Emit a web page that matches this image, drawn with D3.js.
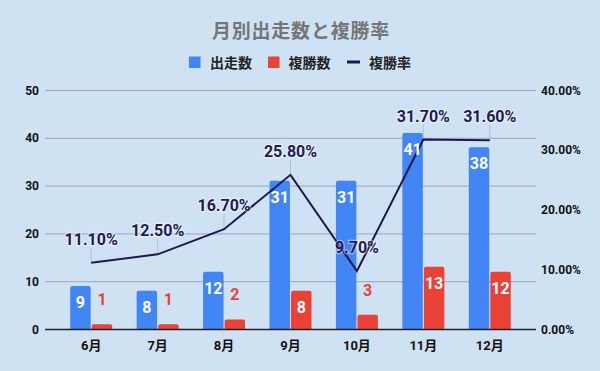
<!DOCTYPE html>
<html>
<head>
<meta charset="utf-8">
<script src="https://cdn.jsdelivr.net/npm/d3@7"></script>
<style>
    html, body { margin: 0; padding: 0; background: #cfe2f3; }
    svg text { font-family: Roboto, "Noto Sans CJK JP", sans-serif; }
</style>
</head>
<body>
<div id="chart"></div>
<script>
var months = ["6月", "7月", "8月", "9月", "10月", "11月", "12月"];
var runs = [9, 8, 12, 31, 31, 41, 38];        // 出走数
var places = [1, 1, 2, 8, 3, 13, 12];         // 複勝数
var placeRate = [11.1, 12.5, 16.7, 25.8, 9.7, 31.7, 31.6]; // 複勝率 (%)
var leftTicks = [0, 10, 20, 30, 40, 50];
var rightTicks = [0, 10, 20, 30, 40];

(function () {
    "use strict";

    var width = 600,
        height = 371,
        plot = { left: 45, right: 536, top: 90, bottom: 329 },
        blue = "#4285f4",
        red = "#ea4335",
        navy = "#1f1850",
        rows,
        svg, x, xs, yL, yR, line, groups, labels;

    rows = months.map(function (m, i) {
        return { month: m, runs: runs[i], places: places[i], rate: placeRate[i] };
    });

    svg = d3.select("#chart")
        .append("svg")
        .attr("width", width)
        .attr("height", height);

    svg.append("rect")
        .attr("width", width)
        .attr("height", height)
        .attr("fill", "#cfe2f3");

    x = d3.scaleBand()
        .domain(months)
        .range([58, 523]);

    xs = d3.scaleBand()
        .domain(["runs", "places"])
        .range([-21, 21])
        .paddingInner(0.05);

    yL = d3.scaleLinear().domain([0, 50]).range([plot.bottom, plot.top]);
    yR = d3.scaleLinear().domain([0, 40]).range([plot.bottom, plot.top]);

    function cx(d) {
        return x(d.month) + x.bandwidth() / 2;
    }

    // title
    svg.append("text")
        .attr("x", 301)
        .attr("y", 38)
        .attr("text-anchor", "middle")
        .attr("font-size", 19)
        .attr("font-weight", "bold")
        .attr("letter-spacing", 0.8)
        .attr("fill", "#757575")
        .text("月別出走数と複勝率");

    // legend
    var legend = svg.append("g").attr("transform", "translate(0,62)");
    legend.append("rect").attr("x", 189).attr("y", -5.5).attr("width", 11.5).attr("height", 11.5).attr("fill", blue);
    legend.append("text").attr("x", 210).attr("y", 5.5).text("出走数");
    legend.append("rect").attr("x", 268).attr("y", -5.5).attr("width", 11.5).attr("height", 11.5).attr("fill", red);
    legend.append("text").attr("x", 288.5).attr("y", 5.5).text("複勝数");
    legend.append("rect").attr("x", 347).attr("y", -1.5).attr("width", 13).attr("height", 3).attr("fill", navy);
    legend.append("text").attr("x", 369).attr("y", 5.5).text("複勝率");
    legend.selectAll("text")
        .attr("font-size", 14)
        .attr("font-weight", "bold")
        .attr("fill", "#222");

    // gridlines
    svg.append("g")
        .selectAll("line")
        .data(leftTicks.slice(1))
        .enter()
        .append("line")
        .attr("x1", plot.left)
        .attr("x2", plot.right)
        .attr("y1", function (d) { return yL(d) + 0.5; })
        .attr("y2", function (d) { return yL(d) + 0.5; })
        .attr("stroke", "#9aa6b6")
        .attr("stroke-width", 1);

    // left axis labels
    svg.append("g")
        .selectAll("text")
        .data(leftTicks)
        .enter()
        .append("text")
        .attr("x", 39)
        .attr("y", function (d) { return yL(d) + 4.5; })
        .attr("text-anchor", "end")
        .attr("font-size", 12)
        .attr("font-weight", "bold")
        .attr("fill", "#111")
        .text(function (d) { return d; });

    // right axis labels
    svg.append("g")
        .selectAll("text")
        .data(rightTicks)
        .enter()
        .append("text")
        .attr("x", 541)
        .attr("y", function (d) { return yR(d) + 4.5; })
        .attr("font-size", 12)
        .attr("font-weight", "bold")
        .attr("fill", "#111")
        .text(function (d) { return d.toFixed(2) + "%"; });

    // bars
    groups = svg.append("g")
        .selectAll("g")
        .data(rows)
        .enter()
        .append("g")
        .attr("transform", function (d) { return "translate(" + cx(d) + ",0)"; });

    function barPath(x0, w, yTop, yBase) {
        var r = Math.min(2, (yBase - yTop) / 2);
        return "M" + x0 + "," + yBase +
            "V" + (yTop + r) +
            "Q" + x0 + "," + yTop + " " + (x0 + r) + "," + yTop +
            "H" + (x0 + w - r) +
            "Q" + (x0 + w) + "," + yTop + " " + (x0 + w) + "," + (yTop + r) +
            "V" + yBase + "Z";
    }

    [["runs", blue], ["places", red]].forEach(function (s) {
        groups.append("path")
            .attr("d", function (d) { return barPath(xs(s[0]), xs.bandwidth(), yL(d[s[0]]), yL(0)); })
            .attr("fill", s[1]);
    });

    // baseline
    svg.append("line")
        .attr("x1", plot.left)
        .attr("x2", plot.right)
        .attr("y1", plot.bottom + 0.5)
        .attr("y2", plot.bottom + 0.5)
        .attr("stroke", "#222")
        .attr("stroke-width", 1.5);

    // x labels
    svg.append("g")
        .selectAll("text")
        .data(months)
        .enter()
        .append("text")
        .attr("x", function (d) { return x(d) + x.bandwidth() / 2; })
        .attr("y", 350)
        .attr("text-anchor", "middle")
        .attr("font-size", 13)
        .attr("font-weight", "bold")
        .attr("fill", "#111")
        .text(function (d) { return d; });

    // leader lines from labels to points
    svg.append("g")
        .selectAll("line")
        .data(rows)
        .enter()
        .append("line")
        .attr("x1", cx)
        .attr("x2", cx)
        .attr("y1", function (d) { return yR(d.rate) - 15; })
        .attr("y2", function (d) { return yR(d.rate); })
        .attr("stroke", "#b4bfcc")
        .attr("stroke-width", 1);

    // rate line
    line = d3.line()
        .x(cx)
        .y(function (d) { return yR(d.rate); });

    svg.append("path")
        .datum(rows)
        .attr("d", line)
        .attr("fill", "none")
        .attr("stroke", navy)
        .attr("stroke-width", 2);

    // bar value labels (drawn over the line)
    labels = svg.append("g")
        .selectAll("g")
        .data(rows)
        .enter()
        .append("g")
        .attr("transform", function (d) { return "translate(" + cx(d) + ",0)"; });

    [["runs", blue], ["places", red]].forEach(function (s) {
        var key = s[0], color = s[1];

        function inside(d) {
            return yL(0) - yL(d[key]) > 30;
        }

        labels.append("text")
            .attr("x", xs(key) + xs.bandwidth() / 2)
            .attr("y", function (d) { return inside(d) ? yL(d[key]) + 22 : yL(d[key]) - 19; })
            .attr("text-anchor", "middle")
            .attr("font-size", 16)
            .attr("font-weight", "bold")
            .attr("fill", function (d) { return inside(d) ? "#fff" : color; })
            .text(function (d) { return d[key]; });
    });

    // rate labels
    svg.append("g")
        .selectAll("text")
        .data(rows)
        .enter()
        .append("text")
        .attr("x", cx)
        .attr("y", function (d) { return yR(d.rate) - 18; })
        .attr("text-anchor", "middle")
        .attr("font-size", 16)
        .attr("font-weight", "bold")
        .attr("fill", "#231a55")
        .attr("stroke", "#ffffff")
        .attr("stroke-opacity", 0.45)
        .attr("stroke-width", 2.5)
        .attr("paint-order", "stroke")
        .text(function (d) { return d.rate.toFixed(2) + "%"; });
}());
</script>
</body>
</html>
